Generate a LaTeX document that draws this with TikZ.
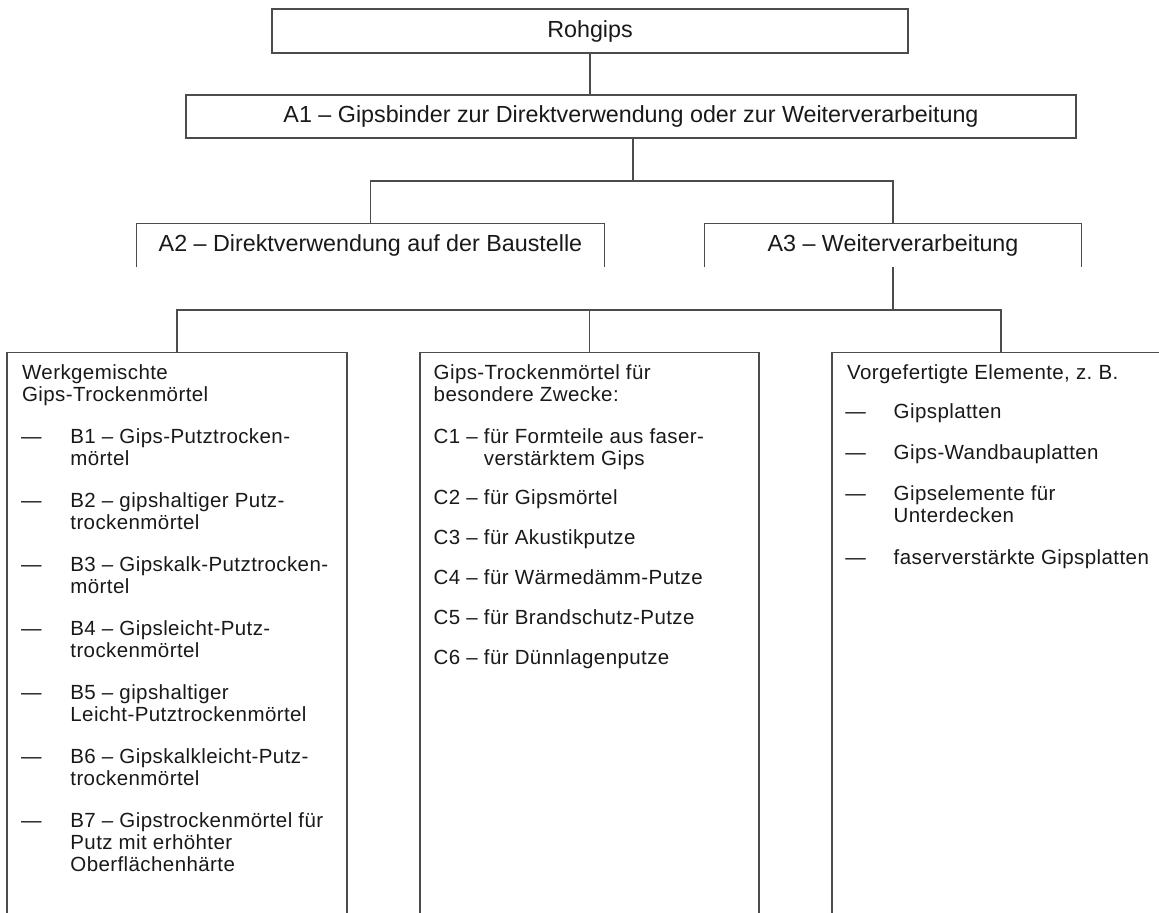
\documentclass[tikz,border=0pt]{standalone}
\usepackage{fontspec}
\setmainfont{Liberation Sans}
\usetikzlibrary{positioning}
\newcommand{\linestack}[1]{\begin{tabular}[t]{@{}l@{}}#1\end{tabular}}

\begin{document}
\begin{tikzpicture}[
  x=0.5pt, y=-0.5pt,
  headbox/.style={draw=black!70, line width=0.6pt, inner sep=0pt,
                  font=\fontsize{11.65}{14}\selectfont, text=black!90},
  openbox/.style={inner sep=0pt, font=\fontsize{11.65}{14}\selectfont,
                  text=black!90},
  listbox/.style={draw=black!70, line width=0.6pt, anchor=north,
                  minimum height=330pt, inner sep=0pt},
  listtext/.style={anchor=base west, inner sep=0pt,
                   font=\fontsize{10.25}{11}\selectfont\addfontfeature{LetterSpace=2}\frenchspacing,
                   text=black!90},
  link/.style={draw=black!70, line width=0.6pt},
]
\useasboundingbox (0,0) rectangle (1159,912);
\clip (0,0) rectangle (1159,912);

% upper levels
\node[headbox, minimum width=318pt, minimum height=22pt] (rohgips) at (590,31) {Rohgips};
\node[headbox, minimum width=445pt, minimum height=21.5pt] (a1) at (631,116.5)
  {A1 – Gipsbinder zur Direktverwendung oder zur Weiterverarbeitung};
\node[openbox, minimum width=233.5pt, minimum height=21.5pt] (a2) at (370.5,245.5)
  {A2 – Direktverwendung auf der Baustelle};
\node[openbox, minimum width=188pt, minimum height=21.5pt] (a3) at (893,245.5)
  {A3 – Weiterverarbeitung};
\draw[link] (a2.south west) -- (a2.north west) -- (a2.north east) -- (a2.south east);
\draw[link] (a3.south west) -- (a3.north west) -- (a3.north east) -- (a3.south east);

% product groups
\node[listbox, minimum width=170pt] (bbox) at (177,352) {};
\node[listbox, minimum width=169.5pt] (cbox) at (589.5,352) {};
\node[listbox, minimum width=169pt] (dbox) at (1001,352) {};

% tree lines
\coordinate (fork1) at (633,181);
\coordinate (fork2) at (893,310);
\draw[link] (rohgips.south) -- (rohgips.south |- a1.north);
\draw[link] (fork1 |- a1.south) -- (fork1);
\draw[link] (a2.north) |- (fork1) -| (a3.north);
\draw[link] (a3.south) -- (fork2);
\draw[link] (bbox.north) |- (fork2) -| (dbox.north);
\draw[link] (cbox.north) -- (cbox.north |- fork2);

% B column
\node[listtext] (bhead) at (21.7,379) {\linestack{Werkgemischte\\Gips-Trockenmörtel}};
\foreach \yy/\txt [count=\i] in {
    443/{B1 – Gips-Putztrocken-\\mörtel},
    507/{B2 – gipshaltiger Putz-\\trockenmörtel},
    571/{B3 – Gipskalk-Putztrocken-\\mörtel},
    635/{B4 – Gipsleicht-Putz-\\trockenmörtel},
    699/{B5 – gipshaltiger\\Leicht-Putztrockenmörtel},
    763/{B6 – Gipskalkleicht-Putz-\\trockenmörtel},
    827/{B7 – Gipstrockenmörtel für\\Putz mit erhöhter\\Oberflächenhärte}} {
  \node[listtext] (bdash\i) at (20.7,\yy) {—};
  \node[listtext] (b\i) at (70,\yy) {\linestack{\txt}};
}

% C column
\node[listtext] (chead) at (433.3,379) {\linestack{Gips-Trockenmörtel für\\besondere Zwecke:}};
\foreach \yy/\txt [count=\i] in {
    443/{C1 – für Formteile aus faser-\\\phantom{C1 – }verstärktem Gips},
    504/{C2 – für Gipsmörtel},
    544/{C3 – für Akustikputze},
    584/{C4 – für Wärmedämm-Putze},
    624/{C5 – für Brandschutz-Putze},
    664/{C6 – für Dünnlagenputze}} {
  \node[listtext] (c\i) at (433.3,\yy) {\linestack{\txt}};
}

% D column
\node[listtext] (dhead) at (846.7,379) {Vorgefertigte Elemente, z. B.};
\foreach \yy/\txt [count=\i] in {
    418/{Gipsplatten},
    459/{Gips-Wandbauplatten},
    500/{Gipselemente für\\Unterdecken},
    564/{faserverstärkte Gipsplatten}} {
  \node[listtext] (ddash\i) at (845,\yy) {—};
  \node[listtext] (d\i) at (893.3,\yy) {\linestack{\txt}};
}
\end{tikzpicture}
\end{document}
